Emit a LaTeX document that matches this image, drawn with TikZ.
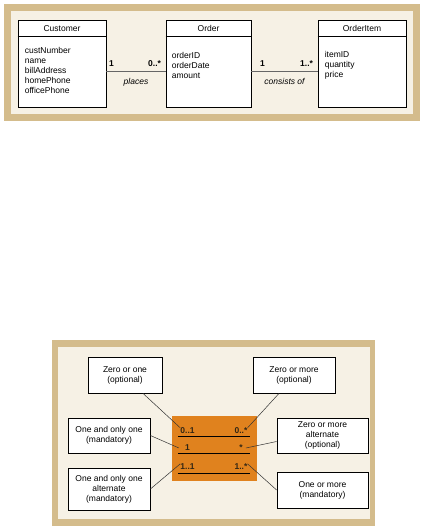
\documentclass[tikz,border=0pt]{standalone}
\usepackage{fontspec}
\setmainfont{Liberation Sans}
\usetikzlibrary{positioning,calc}

\definecolor{panelTan}{RGB}{212,188,140}
\definecolor{panelCream}{RGB}{246,241,229}
\definecolor{multOrange}{RGB}{224,130,30}
\definecolor{multText}{RGB}{50,38,20}

\tikzset{
  classbox/.style={draw, fill=white, line width=0.8pt, minimum width=88pt, minimum height=87pt, inner sep=0pt},
  classname/.style={inner sep=0pt},
  attrs/.style={anchor=north west, align=left, inner sep=0pt},
  assoc/.style={draw=black!60, line width=1pt},
  multlabel/.style={inner sep=0pt, font=\fontsize{8.5}{10}\selectfont\bfseries, text=multText},
  notebox/.style={draw, fill=white, line width=0.8pt, align=center, inner sep=0pt},
  callout/.style={draw=black!80, line width=0.5pt}
}

\begin{document}
\begin{tikzpicture}[x=1pt, y=-1pt, font=\fontsize{8.5}{10}\selectfont]
  \useasboundingbox (0,0) rectangle (423,529);

  % top panel: class diagram
  \fill[panelTan] (4,4) rectangle (420,121);
  \fill[panelCream] (11,11) rectangle (413,114);

  \node (customer) [classbox] at (62,63.5) {};
  \node (order) [classbox, minimum width=85pt] at (208.5,63.5) {};
  \node (orderitem) [classbox] at (362,63.5) {};

  \foreach \cls/\name in {customer/Customer, order/Order, orderitem/OrderItem} {
    \node [classname] at ($(\cls.north)+(0,8.5)$) {\name};
    \draw[line width=0.8pt] ([yshift=-17pt]\cls.north west) -- ([yshift=-17pt]\cls.north east);
  }

  \node (customerattrs) [attrs] at ($(customer.north west)+(7,28)$) {custNumber\\name\\billAddress\\homePhone\\officePhone};
  \node (orderattrs) [attrs] at ($(order.north west)+(6,33)$) {orderID\\orderDate\\amount};
  \node (orderitemattrs) [attrs] at ($(orderitem.north west)+(7,32)$) {itemID\\quantity\\price};

  \draw[assoc] ([yshift=-8.5pt]customer.east) -- node[below=3pt, font=\fontsize{8.5}{10}\selectfont\itshape] {places} ([yshift=-8.5pt]order.west);
  \node [font=\fontsize{8.5}{10}\selectfont\bfseries] at ($(customer.east)+(5,0)$) {1};
  \node [font=\fontsize{8.5}{10}\selectfont\bfseries] at ($(order.west)+(-11,0)$) {0..*};

  \draw[assoc] ([yshift=-8.5pt]order.east) -- node[below=3pt, font=\fontsize{8.5}{10}\selectfont\itshape] {consists of} ([yshift=-8.5pt]orderitem.west);
  \node [font=\fontsize{8.5}{10}\selectfont\bfseries] at ($(order.east)+(11,0)$) {1};
  \node [font=\fontsize{8.5}{10}\selectfont\bfseries] at ($(orderitem.west)+(-11,0)$) {1..*};

  % bottom panel: multiplicity legend
  \fill[panelTan] (52,340) rectangle (375,526);
  \fill[panelCream] (58,347) rectangle (370,519);

  \node (multbox) [fill=multOrange, minimum width=85pt, minimum height=65pt, inner sep=0pt] at (214.5,448.5) {};
  \node (zeroone) [multlabel] at (187.5,431) {0..1};
  \node (zeromany) [multlabel] at (241,431) {0..*};
  \node (exactone) [multlabel] at (187.5,448) {1};
  \node (many) [multlabel] at (241,448) {*};
  \node (oneone) [multlabel] at (187.5,467) {1..1};
  \node (onemany) [multlabel] at (241,467) {1..*};
  \foreach \y in {436,453,473}
    \draw[line width=0.8pt] (178,\y) -- (250,\y);

  \node (zooptional) [notebox, minimum width=74pt, minimum height=36pt] at (125,375) {Zero or one\\(optional)};
  \node (zmoptional) [notebox, minimum width=82pt, minimum height=36pt] at (294,375) {Zero or more\\(optional)};
  \node (oomandatory) [notebox, minimum width=82pt, minimum height=35pt] at (109,435.5) {One and only one\\(mandatory)};
  \node (zmalternate) [notebox, minimum width=91pt, minimum height=35pt] at (322.5,435.5) {Zero or more\\alternate\\(optional)};
  \node (ooalternate) [notebox, minimum width=82pt, minimum height=42pt] at (109,489) {One and only one\\alternate\\(mandatory)};
  \node (ommandatory) [notebox, minimum width=91pt, minimum height=36pt] at (322.5,490) {One or more\\(mandatory)};

  \draw[callout] ([xshift=18pt]zooptional.south) -- (zeroone.north west);
  \draw[callout] ([xshift=-15pt]zmoptional.south) -- (zeromany.north east);
  \draw[callout] (oomandatory.east) -- ([xshift=-6pt]exactone.west);
  \draw[callout] ([yshift=-6pt]zmalternate.west) -- ([xshift=3pt]many.east);
  \draw[callout] (ooalternate.east) -- (oneone.north west);
  \draw[callout] (ommandatory.west) -- (onemany.north east);
\end{tikzpicture}
\end{document}
